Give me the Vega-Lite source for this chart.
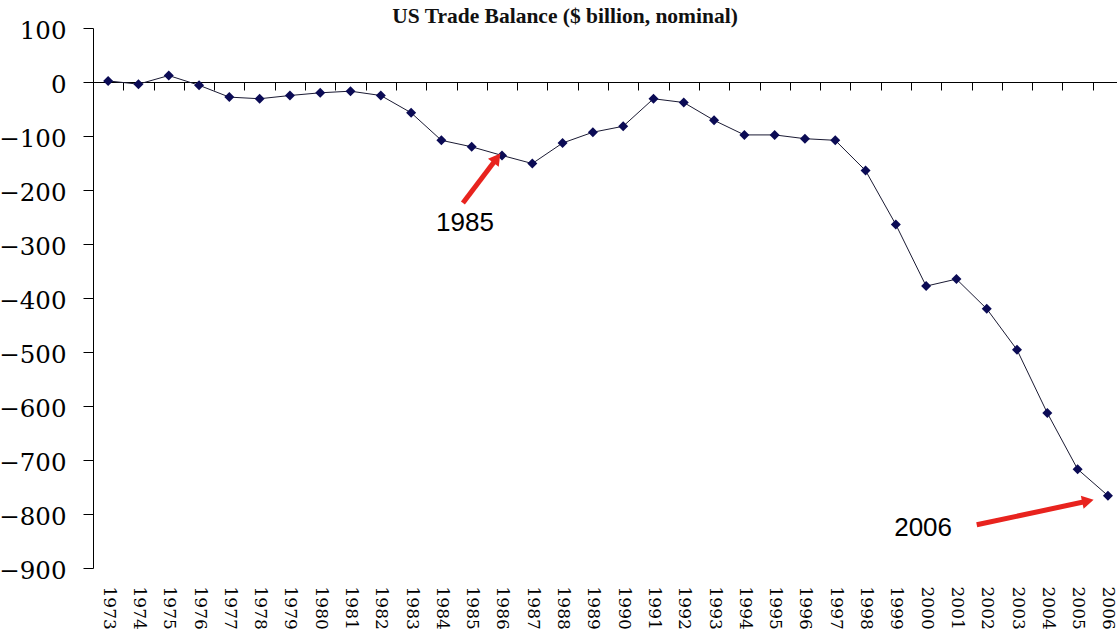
{
  "$schema": "https://vega.github.io/schema/vega-lite/v6.json",
  "width": 1024,
  "height": 540,
  "autosize": {"type": "none"},
  "padding": {"left": 93, "top": 28, "right": 0, "bottom": 65},
  "background": "white",
  "title": {"text": "US Trade Balance ($ billion, nominal)", "font": "Liberation Serif", "fontSize": 21.5, "fontWeight": "bold", "color": "#111111", "anchor": "middle", "dx": -40, "offset": -9},
  "config": {
    "view": {"stroke": null},
    "axis": {"grid": false}
  },
  "datasets": {
    "trade": [
      {"year": 1973, "balance": 2}, {"year": 1974, "balance": -4}, {"year": 1975, "balance": 12},
      {"year": 1976, "balance": -6}, {"year": 1977, "balance": -28}, {"year": 1978, "balance": -31},
      {"year": 1979, "balance": -25}, {"year": 1980, "balance": -20}, {"year": 1981, "balance": -17},
      {"year": 1982, "balance": -25}, {"year": 1983, "balance": -57}, {"year": 1984, "balance": -108},
      {"year": 1985, "balance": -120}, {"year": 1986, "balance": -136}, {"year": 1987, "balance": -151},
      {"year": 1988, "balance": -113}, {"year": 1989, "balance": -93}, {"year": 1990, "balance": -82},
      {"year": 1991, "balance": -31}, {"year": 1992, "balance": -38}, {"year": 1993, "balance": -71},
      {"year": 1994, "balance": -98}, {"year": 1995, "balance": -98}, {"year": 1996, "balance": -105},
      {"year": 1997, "balance": -108}, {"year": 1998, "balance": -164}, {"year": 1999, "balance": -264},
      {"year": 2000, "balance": -378}, {"year": 2001, "balance": -365}, {"year": 2002, "balance": -420},
      {"year": 2003, "balance": -496}, {"year": 2004, "balance": -613}, {"year": 2005, "balance": -717},
      {"year": 2006, "balance": -766}
    ],
    "arrows": [
      {"id": "a1985", "x": 1984.71, "y": -224, "x2": 1985.83, "y2": -141},
      {"id": "a2006", "x": 2001.67, "y": -820, "x2": 2005.34, "y2": -776}
    ],
    "labels": [
      {"label": "1985", "x": 1984.78, "y": -276},
      {"label": "2006", "x": 1999.9, "y": -841}
    ]
  },
  "layer": [
    {
      "data": {"name": "trade"},
      "mark": {"type": "line", "color": "#1a1a33", "strokeWidth": 1},
      "encoding": {
        "x": {"field": "year", "type": "quantitative",
          "scale": {"domain": [1972.5, 2006.3], "nice": false, "zero": false},
          "axis": {"orient": "bottom", "title": null, "domain": false, "ticks": false,
            "values": [1973,1974,1975,1976,1977,1978,1979,1980,1981,1982,1983,1984,1985,1986,1987,1988,1989,1990,1991,1992,1993,1994,1995,1996,1997,1998,1999,2000,2001,2002,2003,2004,2005,2006],
            "format": "d", "labelAngle": 90, "labelAlign": "left", "labelBaseline": "middle",
            "labelPadding": 18, "labelFont": "DejaVu Serif", "labelFontSize": 17, "labelColor": "#000000",
            "labelOverlap": false, "labelBound": false, "labelFlush": false}},
        "y": {"field": "balance", "type": "quantitative", "title": null,
          "scale": {"domain": [-900, 100], "nice": false, "zero": false},
          "axis": {"orient": "left", "title": null, "values": [-900,-800,-700,-600,-500,-400,-300,-200,-100,0,100],
            "tickSize": 10, "tickColor": "#000000", "domainColor": "#000000", "tickWidth": 1, "domainWidth": 1,
            "labelFont": "DejaVu Serif", "labelFontSize": 24.5, "labelColor": "#000000", "labelPadding": 17,
            "labelOffset": 3, "labelOverlap": false, "labelBound": false, "labelFlush": false}}
      }
    },
    {
      "data": {"name": "trade"},
      "mark": {"type": "point", "shape": "diamond", "filled": true, "color": "#0b0b55", "size": 100, "opacity": 1},
      "encoding": {
        "x": {"field": "year", "type": "quantitative",
          "axis": {"orient": "bottom", "offset": -486, "title": null, "labels": false,
            "values": [1973.5,1974.5,1975.5,1976.5,1977.5,1978.5,1979.5,1980.5,1981.5,1982.5,1983.5,1984.5,1985.5,1986.5,1987.5,1988.5,1989.5,1990.5,1991.5,1992.5,1993.5,1994.5,1995.5,1996.5,1997.5,1998.5,1999.5,2000.5,2001.5,2002.5,2003.5,2004.5,2005.5],
            "tickSize": 8, "tickColor": "#000000", "domainColor": "#000000", "tickWidth": 1, "domainWidth": 1}},
        "y": {"field": "balance", "type": "quantitative", "title": null}
      }
    },
    {
      "data": {"name": "arrows"},
      "mark": {"type": "rule", "color": "#e8231e", "strokeWidth": 5},
      "encoding": {
        "x": {"field": "x", "type": "quantitative", "axis": null},
        "y": {"field": "y", "type": "quantitative", "title": null},
        "x2": {"field": "x2"},
        "y2": {"field": "y2"}
      }
    },
    {
      "data": {"name": "arrows"},
      "transform": [{"filter": "datum.id == 'a1985'"}],
      "mark": {"type": "point", "shape": "triangle-up", "filled": true, "color": "#e8231e", "size": 180, "angle": 37, "opacity": 1},
      "encoding": {
        "x": {"field": "x2", "type": "quantitative", "axis": null},
        "y": {"field": "y2", "type": "quantitative", "title": null}
      }
    },
    {
      "data": {"name": "arrows"},
      "transform": [{"filter": "datum.id == 'a2006'"}],
      "mark": {"type": "point", "shape": "triangle-up", "filled": true, "color": "#e8231e", "size": 180, "angle": 78, "opacity": 1},
      "encoding": {
        "x": {"field": "x2", "type": "quantitative", "axis": null},
        "y": {"field": "y2", "type": "quantitative", "title": null}
      }
    },
    {
      "data": {"name": "labels"},
      "mark": {"type": "text", "font": "Liberation Sans", "fontSize": 26, "color": "#000000", "align": "center", "baseline": "alphabetic"},
      "encoding": {
        "x": {"field": "x", "type": "quantitative", "axis": null},
        "y": {"field": "y", "type": "quantitative", "title": null},
        "text": {"field": "label"}
      }
    }
  ],
  "resolve": {"axis": {"x": "independent"}}
}
